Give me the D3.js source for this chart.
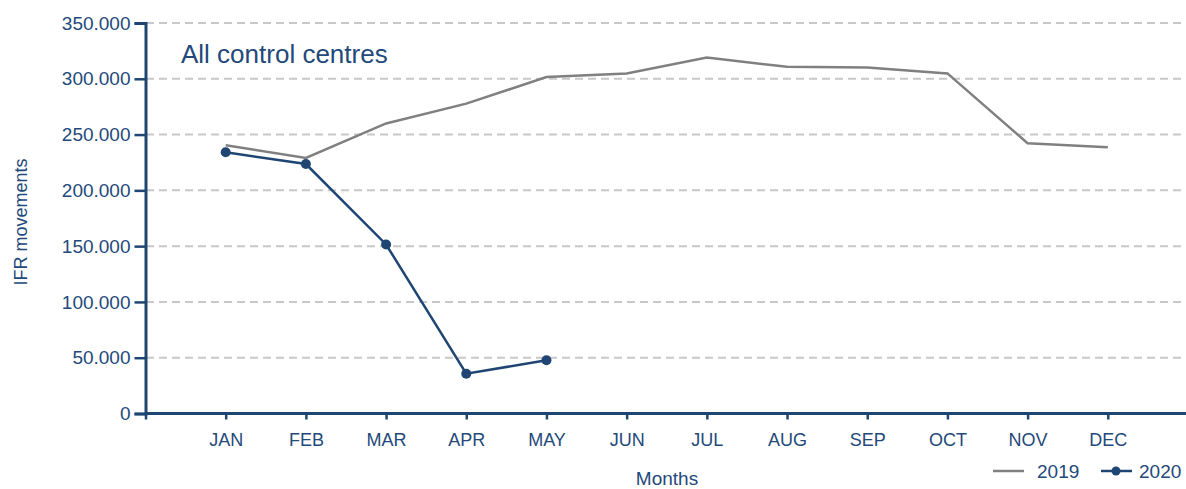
<!DOCTYPE html>
<html>
<head>
<meta charset="utf-8">
<script src="https://cdn.jsdelivr.net/npm/d3@7"></script>
<style>
  body { margin: 0; background: #fff; }
  svg text { font-family: "Liberation Sans", Arial, sans-serif; fill: #23497a; }
</style>
</head>
<body>
<svg id="chart" width="1186" height="489"></svg>
<script>
let months = ['JAN', 'FEB', 'MAR', 'APR', 'MAY', 'JUN', 'JUL', 'AUG', 'SEP', 'OCT', 'NOV', 'DEC'];
let values2019 = [240400, 229000, 260000, 277700, 301500, 304800, 319000, 310700, 310100, 304800, 242300, 238700];
let values2020 = [234100, 223600, 151500, 35700, 47700];
let yTicks = [0, 50000, 100000, 150000, 200000, 250000, 300000, 350000];
let blue = '#1f4672', grey = '#808080';

let svg = d3.select('#chart');

let x = d3.scaleLinear()
  .domain([0, 13])
  .range([145.5, 1188]);

let y = d3.scaleLinear()
  .domain([0, 350000])
  .range([413.5, 23]);

// gridlines
svg.append('g')
  .selectAll('line')
  .data(yTicks.slice(1))
  .enter()
  .append('line')
  .attr('x1', 146)
  .attr('x2', 1186)
  .attr('y1', (d) => y(d))
  .attr('y2', (d) => y(d))
  .attr('stroke', '#c8c8c8')
  .attr('stroke-width', 2)
  .attr('stroke-dasharray', '8,5');

let fmt = (d) => d === 0 ? '0' : d3.format(',')(d).replace(/,/g, '.');

let yAxis = svg.append('g')
  .attr('transform', 'translate(145.5,0)')
  .call(d3.axisLeft(y).tickValues(yTicks).tickFormat(fmt).tickSize(11).tickPadding(4));

let xAxis = svg.append('g')
  .attr('transform', 'translate(0,413.5)')
  .call(d3.axisBottom(x).tickValues(d3.range(0, 13))
    .tickFormat((d) => d === 0 ? '' : months[d - 1])
    .tickSize(6).tickSizeOuter(0).tickPadding(14));

for (let ax of [yAxis, xAxis]) {
  ax.select('.domain').attr('stroke', blue).attr('stroke-width', 3);
  ax.selectAll('.tick line').attr('stroke', blue).attr('stroke-width', 2.5);
  ax.selectAll('.tick text').style('font-size', '19px').attr('fill', '#23497a');
}
xAxis.selectAll('.tick text').style('font-size', '18px');
xAxis.select('.domain').attr('d', 'M145.5,0H1186');

let line = d3.line()
  .x((d, i) => x(i + 1))
  .y((d) => y(d));

svg.append('path')
  .datum(values2019)
  .attr('d', line)
  .attr('fill', 'none')
  .attr('stroke', grey)
  .attr('stroke-width', 2.5);

svg.append('path')
  .datum(values2020)
  .attr('d', line)
  .attr('fill', 'none')
  .attr('stroke', blue)
  .attr('stroke-width', 2.5);

svg.append('g')
  .selectAll('circle')
  .data(values2020)
  .enter()
  .append('circle')
  .attr('cx', (d, i) => x(i + 1))
  .attr('cy', (d) => y(d))
  .attr('r', 5)
  .attr('fill', blue);

svg.append('text')
  .attr('x', 181)
  .attr('y', 63)
  .text('All control centres')
  .style('font-size', '26px');

svg.append('text')
  .attr('transform', 'translate(27,222) rotate(-90)')
  .attr('text-anchor', 'middle')
  .text('IFR movements')
  .style('font-size', '18px');

svg.append('text')
  .attr('x', 667)
  .attr('y', 485)
  .attr('text-anchor', 'middle')
  .text('Months')
  .style('font-size', '19px');

// legend
let legend = svg.append('g');
legend.append('line')
  .attr('x1', 993).attr('x2', 1024).attr('y1', 471).attr('y2', 471)
  .attr('stroke', grey).attr('stroke-width', 2.5);
legend.append('text')
  .attr('x', 1037).attr('y', 478)
  .text('2019')
  .style('font-size', '19px');
legend.append('line')
  .attr('x1', 1101).attr('x2', 1132).attr('y1', 471).attr('y2', 471)
  .attr('stroke', blue).attr('stroke-width', 2.5);
legend.append('circle')
  .attr('cx', 1116).attr('cy', 471).attr('r', 4.5)
  .attr('fill', blue);
legend.append('text')
  .attr('x', 1139).attr('y', 478)
  .text('2020')
  .style('font-size', '19px');
</script>
</body>
</html>
